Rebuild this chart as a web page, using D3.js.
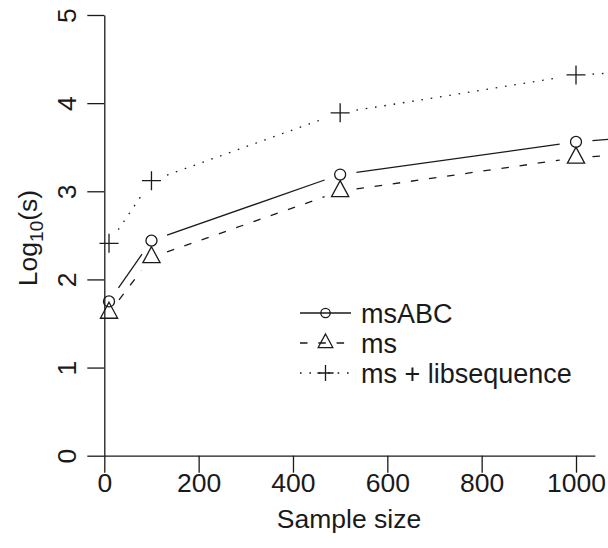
<!DOCTYPE html>
<html><head><meta charset="utf-8">
<script src="https://cdn.jsdelivr.net/npm/d3@7"></script>
<style>
html,body{margin:0;padding:0;background:#fff;}
svg{display:block;}
text{font-family:"Liberation Sans",Arial,Helvetica,sans-serif;fill:#1a1a1a;}
</style></head>
<body>
<svg id="chart" width="608" height="548"></svg>
<script>
// ---- data ----
const sampleSizes = [10, 100, 500, 1000, 2000];
const msABC = [1.75, 2.44, 3.19, 3.56, 4.00];
const ms = [1.62, 2.25, 3.00, 3.38, 3.74];
const msLibsequence = [2.41, 3.12, 3.89, 4.32, 4.60];
const xTicks = [0, 200, 400, 600, 800, 1000];
const yTicks = [0, 1, 2, 3, 4, 5];
const seriesNames = ["msABC", "ms", "ms + libsequence"];

const W = 608, H = 548;
const svg = d3.select("#chart");
const ink = "#1a1a1a";
const FS = 26.5;

const x = d3.scaleLinear().domain([0, 1040]).range([104.3, 104.3 + 1040 * 0.4717]);
const y = d3.scaleLinear().domain([0, 5]).range([455.7, 15]);

const series = [
  {name: seriesNames[0], values: msABC, dash: null, sym: "circle"},
  {name: seriesNames[1], values: ms, dash: "7.5,10.8", sym: "triangle"},
  {name: seriesNames[2], values: msLibsequence, dash: "1.6,7.8", sym: "plus"}
];

svg.append("defs").append("clipPath").attr("id", "clip")
  .append("rect").attr("x", 0).attr("y", 0).attr("width", W).attr("height", H);

// axes
const fmt = d3.format("d");
const xAxis = d3.axisBottom(x).tickValues(xTicks).tickFormat(fmt).tickSizeInner(17).tickSizeOuter(0).tickPadding(0);
const gx = svg.append("g").attr("transform", `translate(0,${y(0)})`).call(xAxis);
const yAxis = d3.axisLeft(y).tickValues(yTicks).tickFormat(fmt).tickSizeInner(17).tickSizeOuter(0).tickPadding(0);
const gy = svg.append("g").attr("transform", `translate(${x(0)},0)`).call(yAxis);
[gx, gy].forEach(g => {
  g.selectAll("path.domain").attr("stroke", ink).attr("stroke-width", 1.3);
  g.selectAll(".tick line").attr("stroke", ink).attr("stroke-width", 1.3);
  g.selectAll(".tick text").attr("font-size", FS).attr("fill", ink)
    .attr("font-family", '"Liberation Sans",Arial,sans-serif');
});
gx.selectAll(".tick text").attr("y", 36.5).attr("dy", 0);
gy.selectAll(".tick text").attr("x", 0).attr("dy", 0).attr("text-anchor", "middle")
  .attr("transform", "translate(-28.3,0) rotate(-90)");

// axis titles
svg.append("text").attr("x", 349).attr("y", 528).attr("text-anchor", "middle")
  .attr("font-size", FS).text("Sample size");
const yl = svg.append("text").attr("text-anchor", "middle").attr("font-size", FS)
  .attr("transform", "translate(37,238) rotate(-90)");
yl.append("tspan").text("Log");
yl.append("tspan").attr("font-size", 19).attr("dy", 6).text("10");
yl.append("tspan").attr("dy", -6).text("(s)");

// symbols
function drawSymbol(g, sym, cx, cy, s) {
  if (sym === "circle") {
    g.append("circle").attr("cx", cx).attr("cy", cy).attr("r", 5.5 * s)
      .attr("fill", "none").attr("stroke", ink).attr("stroke-width", 1.3);
  } else if (sym === "triangle") {
    const h = 16 * s, hw = 8.6 * s;
    g.append("path").attr("d", `M${cx},${cy - h * 2 / 3}L${cx + hw},${cy + h / 3}L${cx - hw},${cy + h / 3}Z`)
      .attr("fill", "none").attr("stroke", ink).attr("stroke-width", 1.3);
  } else {
    const r = 9.5 * s;
    g.append("path").attr("d", `M${cx - r},${cy}H${cx + r}M${cx},${cy - r}V${cy + r}`)
      .attr("fill", "none").attr("stroke", ink).attr("stroke-width", 1.3);
  }
}

// data
const plot = svg.append("g").attr("clip-path", "url(#clip)");
const gap = 16.5;
const line = d3.line();
series.forEach(se => {
  const pts = sampleSizes.map((n, i) => [x(n), y(se.values[i])]);
  for (let i = 0; i < pts.length - 1; i++) {
    const [x0, y0] = pts[i], [x1, y1] = pts[i + 1];
    const L = Math.hypot(x1 - x0, y1 - y0);
    if (L <= 2 * gap) continue;
    const ux = (x1 - x0) / L, uy = (y1 - y0) / L;
    const seg = [[x0 + ux * gap, y0 + uy * gap], [x1 - ux * gap, y1 - uy * gap]];
    const p = plot.append("path").attr("d", line(seg)).attr("fill", "none")
      .attr("stroke", ink).attr("stroke-width", 1.3);
    if (se.dash) p.attr("stroke-dasharray", se.dash);
  }
  pts.forEach(([px, py]) => drawSymbol(plot, se.sym, px, py, 1));
});

// legend
const legY = [313, 343, 373];
const leg = svg.append("g");
series.forEach((se, i) => {
  const ly = legY[i];
  const p = leg.append("path").attr("d", line([[300, ly], [351, ly]])).attr("fill", "none")
    .attr("stroke", ink).attr("stroke-width", 1.3);
  if (se.dash) p.attr("stroke-dasharray", se.dash);
  drawSymbol(leg, se.sym, 325.5, ly, 0.85);
  leg.append("text").attr("x", 361).attr("y", ly + 9.7).attr("font-size", 27).text(se.name);
});
</script>
</body></html>
